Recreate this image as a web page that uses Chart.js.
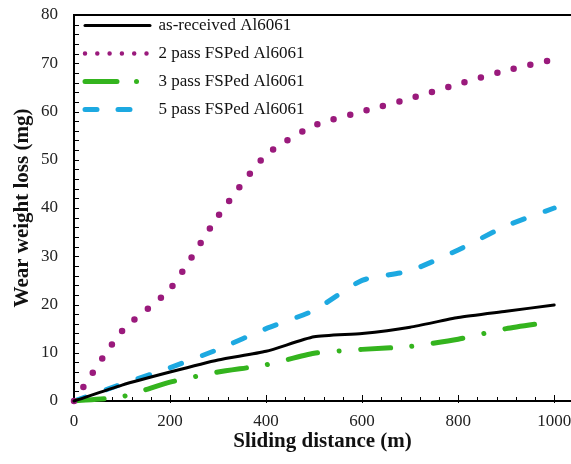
<!DOCTYPE html>
<html>
<head>
<meta charset="utf-8">
<script src="https://cdn.jsdelivr.net/npm/chart.js@4"></script>
<style>
  body { margin: 0; background: #fff; }
  #wrap { width: 571px; height: 464px; }
</style>
</head>
<body>
<div id="wrap"><canvas id="wearChart" width="571" height="464"></canvas></div>
<script>
// Sliding distance (m) and wear weight loss (mg)
const distance = [0, 100, 200, 300, 400, 500, 600, 700, 800, 900, 1000];
const asReceived = [0, 3.3, 6.0, 8.5, 10.3, 13.3, 14.0, 15.3, 17.3, 18.6, 19.9];
const pass2 = [0, 14.5, 23.2, 38.3, 51.0, 57.1, 60.0, 62.7, 65.7, 68.5, 70.8];
const pass3 = [0, 0.9, 3.9, 6.0, 7.5, 9.9, 10.7, 11.3, 12.8, 15.0, 16.5];
const pass5 = [0, 3.5, 6.9, 10.7, 15.0, 18.8, 25.0, 27.0, 31.3, 36.3, 40.0];
const seriesNames = ['as-received Al6061', '2 pass FSPed Al6061', '3 pass FSPed Al6061', '5 pass FSPed Al6061'];
const xTicks = [0, 200, 400, 600, 800, 1000];

const serif = "'Liberation Serif', 'Times New Roman', serif";

function pts(values) {
    return distance.map((d, i) => ({ x: d, y: values[i] }));
}

// legend samples are drawn a bit finer than the plotted lines
const legendDash = [[], [0, 12.3], [32, 19.5, 0.01, 30], [12, 21]];
const legendWidth = [3, 4.5, 5, 5];

// inward ticks + open frame (no right side, the figure is cut there)
const framePlugin = {
    id: 'frame',
    beforeDatasetsDraw(chart) {
        const ctx = chart.ctx;
        const xs = chart.scales.x, ys = chart.scales.y;
        const { left, right, top, bottom } = chart.chartArea;
        ctx.save();
        ctx.strokeStyle = '#000';
        ctx.lineWidth = 1;
        ctx.beginPath();
        for (let d = 40; d <= xs.max; d += 40) {
            const px = Math.round(xs.getPixelForValue(d)) + 0.5;
            const major = d % 200 === 0;
            ctx.moveTo(px, bottom - (major ? 6 : 4));
            ctx.lineTo(px, bottom + (major ? 2 : 0));
        }
        for (let v = 2; v < ys.max; v += 2) {
            const py = Math.round(ys.getPixelForValue(v)) + 0.5;
            ctx.moveTo(left, py);
            ctx.lineTo(left + 5, py);
        }
        ctx.stroke();
        ctx.lineWidth = 2;
        ctx.beginPath();
        ctx.moveTo(right, top);
        ctx.lineTo(left, top);
        ctx.lineTo(left, bottom);
        ctx.lineTo(right, bottom);
        ctx.stroke();
        ctx.restore();
    },
    afterLayout(chart) {
        // pull the legend up towards the frame top like in the figure
        chart.legend.top = chart.chartArea.top - 9;
    }
};

const ctx = document.getElementById('wearChart').getContext('2d');
const wearChart = new Chart(ctx, {
    type: 'line',
    data: {
        datasets: [
            { label: seriesNames[0], data: pts(asReceived), borderColor: '#000000', borderWidth: 3,
              borderCapStyle: 'round', tension: 0.2 },
            { label: seriesNames[1], data: pts(pass2), borderColor: '#9A1A7C', borderWidth: 6.5,
              borderDash: [0, 17], borderCapStyle: 'round', tension: 0.2 },
            { label: seriesNames[2], data: pts(pass3), borderColor: '#34B41E', borderWidth: 5,
              borderDash: [30, 21.5, 0.01, 21.5], borderCapStyle: 'round', tension: 0.2 },
            { label: seriesNames[3], data: pts(pass5), borderColor: '#1DA9E1', borderWidth: 5,
              borderDash: [12, 22], borderCapStyle: 'round', tension: 0.2 }
        ]
    },
    options: {
        responsive: false,
        animation: false,
        clip: false,
        elements: { point: { radius: 0 } },
        layout: { padding: { top: 15, right: 0, left: 0, bottom: 0 } },
        scales: {
            x: {
                type: 'linear', min: 0, max: 1035,
                grid: { display: false, drawTicks: false },
                border: { display: false },
                ticks: { autoSkip: false, padding: 10, color: '#222', font: { family: serif, size: 17 },
                         callback: (v) => String(v) },
                afterBuildTicks: (scale) => { scale.ticks = xTicks.map(v => ({ value: v })); },
                afterFit: (scale) => { scale.height = 63; scale.paddingLeft = 0; scale.paddingRight = 0; },
                title: { display: true, text: 'Sliding distance (m)', color: '#111',
                         font: { family: serif, size: 21, weight: 'bold' }, padding: { top: 0, bottom: 10 } }
            },
            y: {
                min: 0, max: 80,
                grid: { display: false, drawTicks: false },
                border: { display: false },
                ticks: { stepSize: 10, padding: 16, color: '#222', font: { family: serif, size: 17 } },
                afterFit: (scale) => { scale.width = 74; scale.paddingTop = 0; scale.paddingBottom = 0; },
                title: { display: true, text: 'Wear weight loss (mg)', color: '#111',
                         font: { family: serif, size: 21, weight: 'bold' }, padding: { top: 10, bottom: 0 } }
            }
        },
        plugins: {
            tooltip: { enabled: false },
            legend: {
                position: 'chartArea',
                align: 'start',
                labels: {
                    usePointStyle: true,
                    pointStyle: 'line',
                    pointStyleWidth: 65,
                    padding: 11,
                    color: '#111',
                    font: { family: serif, size: 17 },
                    generateLabels(chart) {
                        const items = Chart.defaults.plugins.legend.labels.generateLabels(chart);
                        items.forEach((it, i) => {
                            const ds = chart.data.datasets[i];
                            it.lineDash = legendDash[i];
                            it.lineWidth = legendWidth[i];
                            it.lineCap = 'round';
                            it.strokeStyle = ds.borderColor;
                            it.fillStyle = ds.borderColor;
                            it.pointStyle = 'line';
                        });
                        return items;
                    }
                }
            }
        }
    },
    plugins: [framePlugin]
});
</script>
</body>
</html>
